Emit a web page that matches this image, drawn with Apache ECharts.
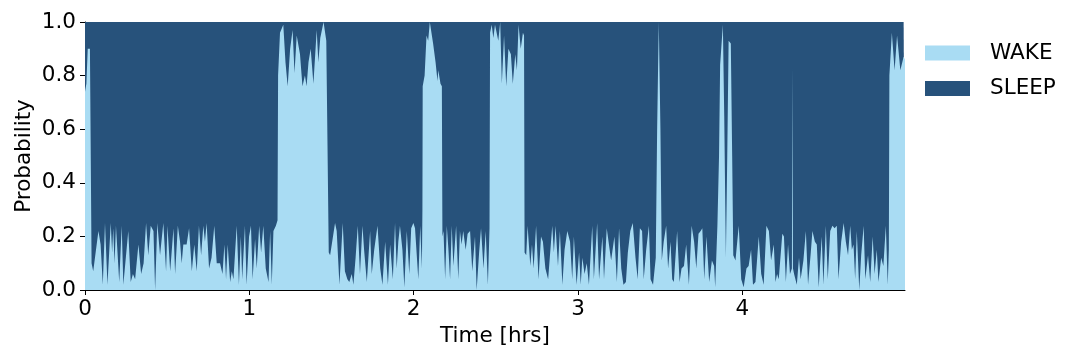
<!DOCTYPE html>
<html>
<head>
<meta charset="utf-8">
<script src="https://cdn.jsdelivr.net/npm/echarts@6/dist/echarts.min.js"></script>
<style>
html,body{margin:0;padding:0;background:#fff;}
#chart{width:1080px;height:360px;}
</style>
</head>
<body>
<div id="chart"></div>
<script>
// WAKE probability samples: [time in minutes, probability]
const wakeSamples = [
[0,0.74],[0.5,0.77],[1.0,0.90],[1.8,0.90],[2.4,0.10],[3.0,0.07],[3.7,0.07],[4.9,0.22],[5.7,0.17],[6.5,0.02],[7.3,0.25],[8.2,0.02],[9.4,0.25],[9.9,0.14],[10.3,0.23],[10.8,0.10],[11.3,0.24],[12.5,0.03],[13.4,0.24],[14.0,0.02],[15.8,0.22],[16.7,0.03],[17.5,0.06],[18.3,0.04],[19.5,0.17],[20.5,0.06],[21.4,0.10],[22.3,0.25],[23.1,0.13],[24.0,0.24],[25.0,0.22],[25.6,0.00],[26.4,0.25],[27.4,0.13],[28.6,0.25],[29.6,0.07],[30.1,0.24],[31.1,0.07],[32.3,0.23],[32.9,0.06],[33.9,0.24],[34.7,0.18],[35.3,0.10],[35.9,0.17],[36.5,0.17],[37.1,0.17],[38.0,0.23],
[39.0,0.07],[39.9,0.17],[40.8,0.07],[41.6,0.24],[42.4,0.13],[43.2,0.24],[43.8,0.18],[44.4,0.25],[45.3,0.08],[46.2,0.12],[47.2,0.24],[48.1,0.10],[49.3,0.10],[50.2,0.06],[50.9,0.17],[51.5,0.04],[52.1,0.17],[53.0,0.03],[53.6,0.07],[54.2,0.04],[55.4,0.24],[56.2,0.02],[56.9,0.20],[57.4,0.04],[58.4,0.24],[59.0,0.02],[59.9,0.20],[60.6,0.24],[61.2,0.04],[62.1,0.19],[62.7,0.08],[63.6,0.24],[64.3,0.14],[65.1,0.24],[66.0,0.08],[67.0,0.03],[67.6,0.22],[68.2,0.02],[68.8,0.22],[69.7,0.24],[70.3,0.26],
[70.5,0.80],[71.2,0.96],[72.4,0.99],[73.2,0.85],[74.0,0.76],[74.9,0.90],[75.8,0.97],[76.5,0.81],[77.3,0.95],[78.5,0.88],[79.4,0.76],[80.3,0.80],[80.9,0.76],[81.6,0.85],[82.4,0.90],[83.4,0.77],[84.6,0.97],[85.2,0.85],[85.9,0.94],[87.1,1.00],[88.1,0.93],[88.8,0.93],[89.0,0.14],
[89.5,0.13],[90.1,0.13],[91.3,0.25],[91.9,0.22],[92.9,0.02],[94.1,0.25],[94.9,0.07],[95.8,0.04],[96.5,0.03],[97.4,0.06],[98.0,0.02],[98.8,0.12],[99.6,0.24],[100.4,0.06],[101.3,0.24],[101.9,0.15],[102.9,0.03],[104.1,0.22],[104.7,0.06],[105.6,0.15],[106.8,0.24],[107.8,0.08],[108.6,0.02],[109.6,0.18],[110.6,0.02],[111.4,0.17],[112.4,0.04],[113.2,0.25],[113.8,0.08],[114.4,0.18],[115.0,0.24],[115.9,0.15],[116.6,0.01],[117.5,0.22],[118.4,0.06],[119.1,0.23],[119.9,0.25],[120.5,0.23],[121.7,0.04],[122.4,0.24],[123.0,0.08],[123.2,0.30],
[123.3,0.76],[124.0,0.80],[124.7,0.95],[125.3,0.93],[125.9,1.00],[127.1,0.92],[128.0,0.85],[128.7,0.78],[129.0,0.82],[129.8,0.77],[130.3,0.76],[130.5,0.20],
[130.9,0.22],[131.5,0.04],[132.1,0.24],[132.7,0.15],[133.3,0.04],[133.9,0.24],[134.5,0.09],[135.5,0.24],[136.3,0.04],[136.9,0.22],[137.5,0.17],[138.1,0.22],[139.0,0.15],[139.7,0.21],[140.6,0.22],[141.4,0.07],[142.4,0.20],[143.0,0.00],[143.9,0.14],[144.6,0.23],[145.5,0.08],[146.3,0.22],[147.1,0.02],[147.7,0.23],
[147.9,0.96],[148.5,0.99],[149.1,0.94],[149.7,0.99],[150.9,0.93],[151.6,1.00],[152.2,0.77],[153.0,0.95],[153.8,0.76],[154.6,0.90],[155.5,0.88],[156.2,0.77],[157.1,0.88],[157.7,0.82],[158.3,0.99],[159.1,0.90],[159.9,0.96],[160.3,0.95],[160.5,0.14],
[161.1,0.13],[161.6,0.24],[162.6,0.09],[163.2,0.17],[163.8,0.08],[164.7,0.24],[165.6,0.04],[166.5,0.20],[167.2,0.18],[168.1,0.08],[169.1,0.04],[169.7,0.04],[170.6,0.24],[171.2,0.14],[171.8,0.24],[172.7,0.09],[173.4,0.22],[174.3,0.02],[175.1,0.15],[176.1,0.22],[177.1,0.18],[177.9,0.04],[178.5,0.20],[179.5,0.02],[180.4,0.14],[181.0,0.02],[181.6,0.12],[182.4,0.06],[183.2,0.10],[184.0,0.02],[184.6,0.02],[185.2,0.24],[185.8,0.04],[187.0,0.25],[187.7,0.04],[188.9,0.20],[189.5,0.04],[190.5,0.23],[191.3,0.17],
[192.1,0.11],[192.6,0.11],[193.3,0.20],[194.2,0.03],[195.0,0.23],[195.8,0.08],[196.6,0.02],[197.5,0.03],[198.2,0.14],[199.1,0.22],[200.0,0.25],[201.0,0.12],[201.8,0.04],[202.6,0.23],[203.4,0.22],[204.0,0.04],[204.9,0.15],[205.9,0.24],[206.5,0.04],[207.4,0.02],[208.4,0.12],[208.9,0.60],[209.5,1.00],[210.1,0.60],[210.6,0.11],[211.3,0.18],[212.2,0.24],[212.9,0.08],[213.8,0.18],[214.4,0.04],[215.0,0.03],[216.2,0.22],[217.1,0.03],[217.8,0.08],[218.7,0.09],[219.5,0.17],[220.5,0.02],[221.5,0.24],[222.4,0.18],[223.2,0.08],[224.0,0.21],[224.8,0.22],[225.4,0.23],[226.1,0.04],[226.9,0.20],[227.9,0.03],[228.9,0.11],[229.7,0.09],
[230.1,0.01],[230.9,0.24],[231.5,0.50],[231.9,0.84],[232.9,0.99],[233.4,0.65],[234.0,0.12],[234.5,0.50],[235.0,0.93],[235.8,0.92],[236.3,0.50],[236.7,0.13],[237.5,0.11],[238.7,0.24],[239.6,0.04],[240.5,0.01],[241.5,0.08],[242.3,0.09],[243.2,0.15],[243.9,0.02],[244.8,0.03],[246.0,0.20],[246.9,0.06],[247.8,0.02],[248.8,0.24],[249.7,0.22],[250.5,0.11],[251.5,0.17],[252.1,0.03],[252.7,0.06],[253.3,0.04],[254.6,0.21],[255.2,0.20],[255.9,0.03],[256.7,0.17],[257.4,0.06],[258.1,0.08],[258.3,0.83],[258.5,0.08],[258.9,0.06],[259.9,0.02],[260.7,0.12],[261.3,0.04],[262.3,0.11],[263.2,0.22],[264.0,0.02],[265.0,0.14],[265.6,0.22],[266.5,0.18],[267.2,0.17],[267.9,0.01],
[269.0,0.20],[269.6,0.02],[270.5,0.24],[271.2,0.04],[272.1,0.22],[272.9,0.24],[273.7,0.23],[274.5,0.24],[275.1,0.04],[276.1,0.18],[277.0,0.25],[277.8,0.18],[278.6,0.13],[279.4,0.24],[280.0,0.15],[280.6,0.17],[281.2,0.04],[281.8,0.22],[282.7,0.00],[283.4,0.13],[284.3,0.24],[284.9,0.04],[285.9,0.13],[286.7,0.03],[287.6,0.20],[288.3,0.06],[289.1,0.15],[289.7,0.03],[290.7,0.12],[291.5,0.09],[292.4,0.24],[293.1,0.02],[293.5,0.15],
[293.7,0.80],[294.6,0.96],[295.6,0.82],[296.5,0.95],[297.7,0.82],[298.9,0.87],[299.4,0.86]
];
const seriesNames = ['WAKE', 'SLEEP'];
const xTickValues = [0, 1, 2, 3, 4];
const xMaxHours = 4.99;

// Minutes -> hours. SLEEP probability is the complement of WAKE (two classes).
// The SLEEP band is stacked on WAKE: its upper edge is wake + sleep.
const wakeData = wakeSamples.map(([m, p]) => [m / 60, p]);
const sleepTopData = wakeSamples.map(([m, p]) => [m / 60, p + (1 - p)]);

const FONT = 'DejaVu Sans';
const FS = 21.5;
const chart = echarts.init(document.getElementById('chart'), null, {renderer: 'canvas'});
chart.setOption({
  animation: false,
  backgroundColor: '#ffffff',
  textStyle: {fontFamily: FONT},
  grid: {left: 85, right: 175, top: 22, bottom: 70, containLabel: false},
  legend: {
    orient: 'vertical',
    left: 925,
    top: 42,
    padding: 0,
    itemWidth: 45,
    itemHeight: 15,
    itemGap: 13.5,
    icon: 'rect',
    data: seriesNames,
    textStyle: {fontFamily: FONT, fontSize: FS, color: '#000', padding: [0, 0, 0, 15]}
  },
  xAxis: {
    type: 'value',
    min: 0,
    max: xMaxHours,
    name: 'Time [hrs]',
    nameLocation: 'middle',
    nameGap: 35,
    nameMoveOverlap: false,
    nameTextStyle: {fontFamily: FONT, fontSize: FS, color: '#000'},
    splitLine: {show: false},
    axisLine: {show: true, lineStyle: {color: '#000', width: 1}},
    axisTick: {show: true, inside: false, length: 5, lineStyle: {color: '#000'}, customValues: xTickValues},
    axisLabel: {fontFamily: FONT, fontSize: FS, color: '#000', margin: 8, customValues: xTickValues}
  },
  yAxis: {
    type: 'value',
    min: 0,
    max: 1,
    interval: 0.2,
    name: 'Probability',
    nameLocation: 'middle',
    nameGap: 50,
    nameMoveOverlap: false,
    nameTextStyle: {fontFamily: FONT, fontSize: FS, color: '#000'},
    splitLine: {show: false},
    axisLine: {show: true, lineStyle: {color: '#000', width: 1}},
    axisTick: {show: true, inside: false, length: 5, lineStyle: {color: '#000'}},
    axisLabel: {fontFamily: FONT, fontSize: FS, color: '#000', margin: 9, formatter: v => v.toFixed(1)}
  },
  series: [
    {
      name: seriesNames[0], type: 'line', data: wakeData,
      symbol: 'none', showSymbol: false, smooth: false, sampling: 'none',
      lineStyle: {width: 0}, color: '#a9dcf3',
      areaStyle: {color: '#a9dcf3', opacity: 1}, z: 3
    },
    {
      name: seriesNames[1], type: 'line', data: sleepTopData,
      symbol: 'none', showSymbol: false, smooth: false, sampling: 'none',
      lineStyle: {width: 0}, color: '#27527b',
      areaStyle: {color: '#27527b', opacity: 1}, z: 2
    }
  ]
});
</script>
</body>
</html>
